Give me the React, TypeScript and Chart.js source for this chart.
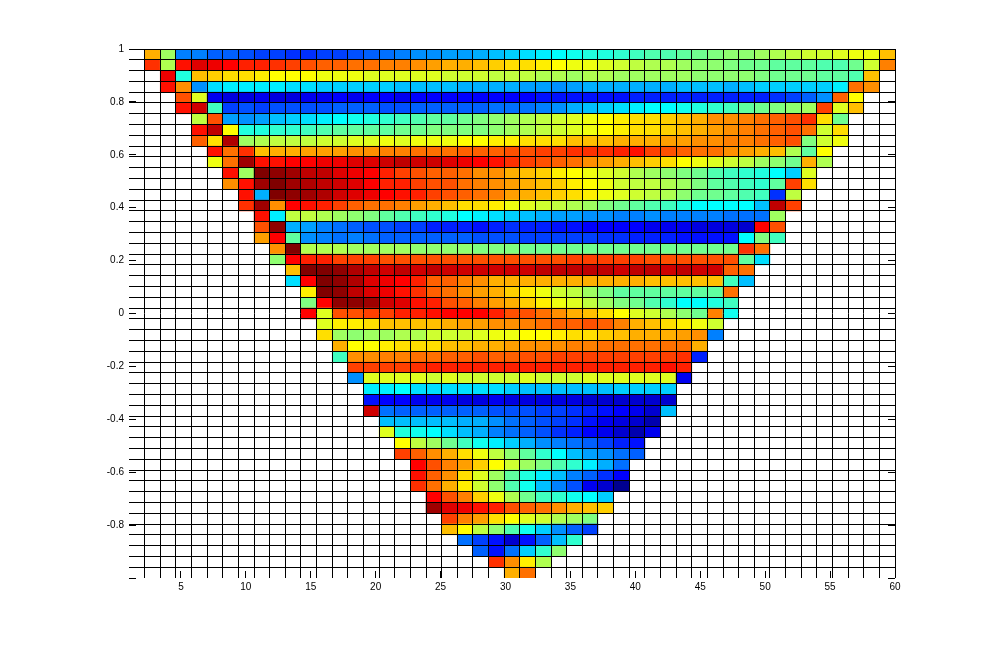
import React, { useEffect, useRef } from "react";
import { Chart, registerables } from "chart.js";

Chart.register(...registerables);

const X_MIN = 1;
const X_MAX = 60;
const Y_MIN = -1;
const Y_MAX = 1;
const GRID_CELLS = 49;

const xTickValues = [5, 10, 15, 20, 25, 30, 35, 40, 45, 50, 55, 60];
const yTickValues = [1, 0.8, 0.6, 0.4, 0.2, 0, -0.2, -0.4, -0.6, -0.8, -1];
const yTickLabels = ["1", "0.8", "0.6", "0.4", "0.2", "0", "-0.2", "-0.4", "-0.6", "-0.8", ""];

// first coloured column of every row
const rowStarts = [1,1,2,2,3,3,4,4,4,5,5,6,6,7,7,8,8,8,9,9,10,10,11,11,11,12,12,13,13,14,14,15,15,15,16,16,17,17,18,18,18,19,19,20,20,21,22,23,24];

const row00 = [45,34,16,16,14,14,13,12,12,11,11,12,12,13,14,15,16,17,17,18,18,19,20,21,22,23,24,25,26,26,27,28,29,29,30,31,32,33,33,34,35,36,37,37,38,39,39,44];
const row01 = [53,35,55,58,57,56,54,54,53,52,51,50,50,49,49,48,48,47,46,45,45,44,43,42,42,41,40,39,39,38,37,36,35,35,34,33,33,32,31,31,30,30,30,29,29,31,37,48];
const row02 = [57,26,44,43,42,42,41,40,40,40,39,39,39,38,38,38,38,38,37,37,37,36,36,36,35,35,34,35,35,34,34,34,34,34,33,33,33,33,32,31,31,31,30,30,29,44];
const row03 = [55,47,17,22,23,23,23,23,22,22,21,21,21,21,21,20,20,20,20,19,19,19,19,18,18,17,18,19,19,19,19,19,19,20,20,20,19,20,21,21,21,21,21,23,49,47];
const row04 = [51,38,7,6,6,7,6,6,7,7,8,7,8,8,7,8,8,8,8,8,8,8,8,9,9,9,9,9,9,10,10,10,10,10,10,10,10,10,11,12,14,17,50,40];
const row05 = [55,59,28,12,13,12,13,13,13,13,14,14,14,13,13,14,14,14,14,14,15,15,15,16,17,19,20,21,22,23,24,24,25,26,27,28,30,31,32,33,34,52,38,44];
const row06 = [36,51,18,17,18,20,21,22,23,24,25,26,27,28,29,30,30,31,32,33,34,35,36,37,38,39,40,41,42,42,43,44,45,47,47,48,49,50,51,53,42,31];
const row07 = [55,60,40,26,26,27,27,28,29,30,30,30,30,31,31,32,32,32,32,33,34,35,36,37,38,39,40,41,42,42,43,44,45,46,47,48,49,50,51,49,37,42];
const row08 = [50,42,61,34,35,36,36,36,37,37,38,38,39,38,39,39,39,40,40,41,41,42,42,42,44,44,44,45,45,45,46,46,47,47,48,48,49,50,51,32,37,39];
const row09 = [55,49,53,44,45,45,46,46,46,47,47,48,48,49,49,49,50,50,50,51,51,52,52,53,53,53,54,55,52,51,50,49,49,47,46,45,44,35,30,40];
const row10 = [39,49,62,55,55,56,56,57,57,58,58,59,60,59,59,58,57,56,55,53,52,51,50,49,47,46,45,44,43,42,40,39,38,37,36,34,33,31,45,35];
const row11 = [55,34,64,63,62,60,60,58,57,56,54,52,51,50,50,49,47,47,45,44,43,41,40,39,38,37,35,34,33,32,31,29,28,27,26,24,21,38];
const row12 = [47,55,62,64,62,61,60,59,58,56,54,54,52,51,51,49,48,47,46,45,44,43,41,40,39,37,36,36,35,34,32,30,29,28,27,30,52,42];
const row13 = [55,19,64,63,62,61,59,58,57,56,55,54,52,51,50,49,48,46,45,44,43,42,41,39,38,37,36,35,33,31,31,30,29,28,11,36];
const row14 = [53,62,47,56,55,54,52,50,49,49,48,46,45,44,42,42,41,39,38,37,36,35,34,32,31,30,29,28,26,24,24,24,24,20,60,52];
const row15 = [55,23,36,36,35,34,33,32,30,29,28,27,26,24,23,22,21,20,19,18,18,17,17,16,16,17,16,16,16,16,15,15,15,34];
const row16 = [51,63,19,18,16,15,14,13,13,12,12,10,10,10,9,10,11,10,10,9,9,8,8,8,8,7,7,7,6,6,6,5,56,51];
const row17 = [46,56,30,17,16,15,16,15,14,14,14,14,14,14,13,13,13,12,12,12,12,12,11,11,10,10,10,9,9,9,9,24,32,28];
const row18 = [47,64,35,35,35,34,34,34,34,33,33,33,33,32,32,32,31,31,31,31,31,31,31,31,31,31,31,31,31,31,53,49];
const row19 = [33,56,54,54,52,52,52,51,51,51,51,51,51,51,51,51,51,51,51,52,52,52,52,52,51,51,51,51,51,51,30,22];
const row20 = [44,64,64,63,61,60,59,60,59,60,59,59,59,59,59,59,60,60,60,60,60,59,60,60,59,60,59,59,50,49];
const row21 = [22,56,64,63,61,58,57,56,54,50,50,48,47,45,45,45,45,45,45,45,45,45,45,44,44,44,44,44,28,20];
const row22 = [41,64,63,60,58,57,55,53,50,49,47,46,45,43,41,39,37,36,34,32,30,30,30,30,30,30,30,49];
const row23 = [32,56,63,63,62,59,58,55,54,51,50,48,46,45,43,41,39,38,36,34,32,31,29,27,24,24,26,28];
const row24 = [56,38,51,51,52,52,54,54,55,56,56,56,54,51,51,49,47,45,44,42,40,38,37,35,33,31,48,25];
const row25 = [38,41,41,42,44,44,44,44,45,46,46,47,47,48,49,50,50,51,50,48,45,44,42,41,39,37];
const row26 = [42,34,33,34,34,35,35,37,37,37,38,39,39,40,40,41,42,42,43,44,45,45,45,46,47,16];
const row27 = [45,40,40,41,42,42,42,44,44,45,45,46,47,47,47,48,48,49,49,49,49,49,49,45];
const row28 = [28,47,47,48,48,49,49,50,50,51,50,50,51,51,52,52,52,52,52,52,52,52,53,10];
const row29 = [52,52,52,52,53,54,54,54,54,54,54,54,54,54,54,54,54,54,54,54,55,54];
const row30 = [17,38,38,38,38,37,38,37,37,37,37,38,37,37,37,38,38,38,38,38,38,7];
const row31 = [23,23,24,22,22,22,22,22,22,21,20,20,20,20,20,20,21,21,21,21];
const row32 = [9,8,8,7,7,7,6,6,7,6,6,6,6,6,5,5,5,5,5,5];
const row33 = [59,15,14,14,14,14,14,14,13,13,13,12,12,11,10,9,8,7,5,20];
const row34 = [20,20,20,20,20,19,19,17,15,14,13,12,11,9,7,6,5,3];
const row35 = [38,26,25,24,22,20,19,16,15,14,13,11,10,8,7,5,3,7];
const row36 = [40,36,34,31,28,25,23,21,19,17,16,15,14,12,10,9];
const row37 = [52,50,47,45,42,39,36,33,30,27,24,20,18,17,15,14];
const row38 = [56,51,48,46,43,40,37,34,32,29,27,23,19,15];
const row39 = [55,50,47,42,38,34,30,26,23,20,16,14,11,8];
const row40 = [53,49,45,41,37,33,29,25,20,16,13,7,5,1];
const row41 = [56,51,48,43,39,35,31,28,27,25,24,21];
const row42 = [62,58,57,55,54,51,50,49,47,45,44,43];
const row43 = [52,48,46,42,40,38,37,35,34,32];
const row44 = [44,40,36,33,29,25,21,17,14,12];
const row45 = [15,12,9,5,9,14,20,27];
const row46 = [14,9,15,21,27,33];
const row47 = [53,47,41,35];
const row48 = [45,49];

const rows = [
  row00,row01,row02,row03,row04,row05,row06,row07,row08,row09,
  row10,row11,row12,row13,row14,row15,row16,row17,row18,row19,
  row20,row21,row22,row23,row24,row25,row26,row27,row28,row29,
  row30,row31,row32,row33,row34,row35,row36,row37,row38,row39,
  row40,row41,row42,row43,row44,row45,row46,row47,row48,
];

function jet(v: number): string {
  const c = (t: number) => Math.round(255 * Math.max(0, Math.min(1, t)));
  const r = Math.min((v - 24) / 16, (72 - v) / 16);
  const g = Math.min((v - 8) / 16, (56 - v) / 16);
  const b = Math.min((v + 8) / 16, (40 - v) / 16);
  return `rgb(${c(r)},${c(g)},${c(b)})`;
}

const dx = (X_MAX - X_MIN) / GRID_CELLS;
const dy = (Y_MAX - Y_MIN) / GRID_CELLS;

const xEdges = Array.from({ length: GRID_CELLS }, (_, i) => X_MIN + dx * (i + 1));
const yEdges = Array.from({ length: GRID_CELLS }, (_, i) => Y_MAX - dy * i);

const cells = rows.flatMap((values, r) =>
  values.map((v, i) => {
    const c = rowStarts[r] + i;
    return {
      x: [X_MIN + dx * c, X_MIN + dx * (c + 1)],
      y: Y_MAX - dy * (r + 0.5),
      v,
    };
  })
);

const fixedTicks = (values: number[]) => (scale: any) => {
  scale.ticks = values.map((value) => ({ value }));
};

const font = { family: "'Liberation Sans', Arial, sans-serif", size: 10 };

export default function App() {
  const ref = useRef<HTMLCanvasElement>(null);

  useEffect(() => {
    const chart = new Chart(ref.current!, {
      type: "bar",
      data: {
        datasets: [
          {
            data: cells as any,
            backgroundColor: (ctx: any) => jet(ctx.raw ? ctx.raw.v : 0),
            borderWidth: 0,
            barPercentage: 1,
            categoryPercentage: 1,
            xAxisID: "x",
            yAxisID: "y",
          },
        ],
      },
      options: {
        indexAxis: "y",
        animation: false,
        responsive: false,
        layout: { padding: { top: 49, left: 0, right: 0, bottom: 0 } },
        plugins: { legend: { display: false }, tooltip: { enabled: false } },
        scales: {
          x: {
            type: "linear",
            position: "bottom",
            min: X_MIN,
            max: X_MAX,
            offset: false,
            afterBuildTicks: fixedTicks(xTickValues),
            afterFit: (s: any) => { s.height = 70; },
            border: { display: false },
            grid: { offset: false, drawOnChartArea: false, drawTicks: true, tickLength: -7, color: "#000", z: -1 },
            ticks: { autoSkip: false, maxRotation: 0, color: "#000", font, padding: 10, callback: (v: any) => String(v) },
          },
          y: {
            type: "linear",
            position: "left",
            min: Y_MIN,
            max: Y_MAX,
            offset: false,
            afterBuildTicks: fixedTicks(yTickValues),
            afterFit: (s: any) => { s.width = 129; },
            border: { display: false },
            grid: { offset: false, drawOnChartArea: false, drawTicks: true, tickLength: -7, color: "#000", z: -1 },
            ticks: {
              autoSkip: false,
              color: "#000",
              font,
              padding: 12,
              callback: (v: any) => yTickLabels[yTickValues.indexOf(v)] ?? "",
            },
          },
          yRight: {
            type: "linear",
            axis: "y",
            position: "right",
            min: Y_MIN,
            max: Y_MAX,
            offset: false,
            afterBuildTicks: fixedTicks(yTickValues),
            afterFit: (s: any) => { s.width = 94; },
            border: { display: false },
            grid: { offset: false, drawOnChartArea: false, drawTicks: true, tickLength: -7, color: "#000", z: -1 },
            ticks: { display: false, autoSkip: false },
          },
          xGrid: {
            type: "linear",
            axis: "x",
            position: "bottom",
            min: X_MIN,
            max: X_MAX,
            offset: false,
            afterBuildTicks: fixedTicks(xEdges),
            afterFit: (s: any) => { s.height = 0; },
            border: { display: false },
            grid: { offset: false, drawTicks: false, color: "#000", lineWidth: 1, z: 1 },
            ticks: { display: false, autoSkip: false },
          },
          yGrid: {
            type: "linear",
            axis: "y",
            position: "left",
            min: Y_MIN,
            max: Y_MAX,
            offset: false,
            afterBuildTicks: fixedTicks(yEdges),
            afterFit: (s: any) => { s.width = 0; },
            border: { display: false },
            grid: { offset: false, drawTicks: false, color: "#000", lineWidth: 1, z: 1 },
            ticks: { display: false, autoSkip: false },
          },
        },
      } as any,
    });
    return () => chart.destroy();
  }, []);

  return (
    <canvas
      ref={ref}
      width={989}
      height={648}
      style={{ position: "fixed", left: 0, top: 0, width: 989, height: 648, background: "#fff", display: "block" }}
    />
  );
}
